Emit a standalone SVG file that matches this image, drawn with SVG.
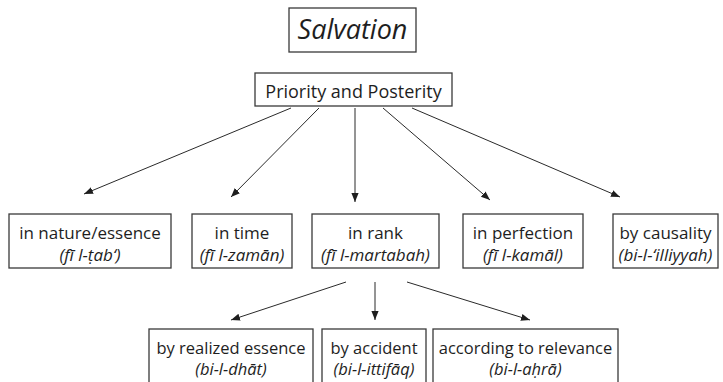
<svg xmlns="http://www.w3.org/2000/svg" width="723" height="382" viewBox="0 0 723 382">
  <style>
    .box { fill: #ffffff; stroke: #3a3a3a; stroke-width: 1.3; }
    .t { font-family: "Open Sans", "Liberation Sans", sans-serif; font-size: 17px; fill: #1e1e1e; text-anchor: middle; }
    .s { font-size: 16.5px; }
    .i { font-style: italic; }
    .edge { stroke: #2a2a2a; stroke-width: 1; fill: none; marker-end: url(#arrow); }
  </style>
  <defs>
    <marker id="arrow" viewBox="0 0 10 10" refX="10" refY="5" markerWidth="9" markerHeight="9" markerUnits="userSpaceOnUse" orient="auto">
      <path d="M0,1 L10,5 L0,9 Z" fill="#1e1e1e"/>
    </marker>
  </defs>
  <rect width="723" height="382" fill="#ffffff"/>

  <g id="connectors">
    <line class="edge" x1="291" y1="108" x2="84" y2="194"/>
    <line class="edge" x1="319" y1="108" x2="231" y2="197"/>
    <line class="edge" x1="355" y1="108" x2="355" y2="202"/>
    <line class="edge" x1="383" y1="108" x2="490" y2="200"/>
    <line class="edge" x1="412" y1="108" x2="620" y2="197"/>
    <line class="edge" x1="346" y1="282" x2="231" y2="320"/>
    <line class="edge" x1="375" y1="282" x2="375" y2="320"/>
    <line class="edge" x1="407" y1="282" x2="530" y2="320"/>
  </g>

  <g id="salvation">
    <rect class="box" x="289" y="8" width="127" height="44"/>
    <text class="t i" x="352.5" y="39" style="font-size:27px">Salvation</text>
  </g>

  <g id="priority">
    <rect class="box" x="255" y="73" width="197" height="33"/>
    <text class="t" x="353.5" y="98" style="font-size:18px">Priority and Posterity</text>
  </g>

  <g id="nature">
    <rect class="box" x="9" y="214" width="162" height="54"/>
    <text class="t" x="90" y="239">in nature/essence</text>
    <text class="t i" x="90" y="261">(fī l-ṭab‘)</text>
  </g>

  <g id="time">
    <rect class="box" x="192" y="214" width="100" height="54"/>
    <text class="t" x="242" y="239">in time</text>
    <text class="t i" x="242" y="261">(fī l-zamān)</text>
  </g>

  <g id="rank">
    <rect class="box" x="312" y="214" width="127" height="54"/>
    <text class="t" x="375.5" y="239">in rank</text>
    <text class="t i" x="375.5" y="261">(fī l-martabah)</text>
  </g>

  <g id="perfection">
    <rect class="box" x="463" y="214" width="120" height="54"/>
    <text class="t" x="523" y="239">in perfection</text>
    <text class="t i" x="523" y="261">(fī l-kamāl)</text>
  </g>

  <g id="causality">
    <rect class="box" x="613" y="214" width="105" height="54"/>
    <text class="t" x="665.5" y="239">by causality</text>
    <text class="t i" x="665.5" y="261">(bi-l-‘illiyyah)</text>
  </g>

  <g id="essence">
    <rect class="box" x="149" y="329" width="164" height="60"/>
    <text class="t s" x="231" y="354">by realized essence</text>
    <text class="t s i" x="231" y="375">(bi-l-dhāt)</text>
  </g>

  <g id="accident">
    <rect class="box" x="322" y="329" width="104" height="60"/>
    <text class="t s" x="374" y="354">by accident</text>
    <text class="t s i" x="374" y="375">(bi-l-ittifāq)</text>
  </g>

  <g id="relevance">
    <rect class="box" x="433" y="329" width="185" height="60"/>
    <text class="t s" x="525.5" y="354">according to relevance</text>
    <text class="t s i" x="525.5" y="375">(bi-l-aḥrā)</text>
  </g>
</svg>
